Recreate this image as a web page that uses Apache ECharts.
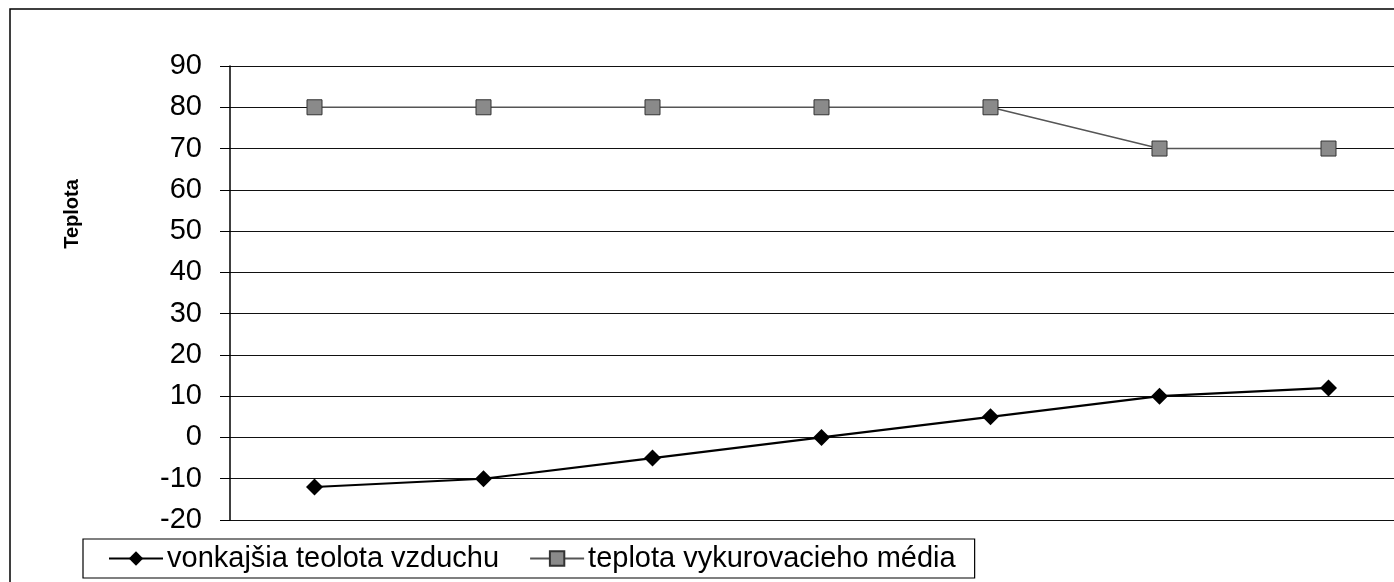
<!DOCTYPE html>
<html>
<head>
<meta charset="utf-8">
<script src="https://cdn.jsdelivr.net/npm/echarts@6/dist/echarts.min.js"></script>
<style>
  html, body { margin: 0; padding: 0; background: #fff; overflow: hidden; }
  /* the plot area of the original runs past the right edge of the picture */
  #chart { width: 1413px; height: 582px; }
</style>
</head>
<body>
<div id="chart"></div>
<script>
// categories have no visible labels in the original
const categories = ['1', '2', '3', '4', '5', '6', '7']
const outdoorTemp = [-12, -10, -5, 0, 5, 10, 12]
const mediumTemp = [80, 80, 80, 80, 80, 70, 70]
const seriesNames = ['vonkajšia teolota vzduchu', 'teplota vykurovacieho média']

const chart = echarts.init(document.getElementById('chart'))
const font = 'Liberation Sans, Arial, sans-serif'

chart.setOption({
  animation: false,
  backgroundColor: '#fff',
  textStyle: { fontFamily: font },
  graphic: [
    {
      type: 'rect',
      shape: { x: 10, y: 9, width: 1420, height: 600 },
      style: { fill: 'none', stroke: '#000', lineWidth: 1.5 },
      silent: true
    },
    {
      type: 'text',
      x: 72,
      y: 214,
      rotation: Math.PI / 2,
      style: {
        text: 'Teplota',
        font: 'bold 20px ' + font,
        fill: '#000',
        align: 'center',
        verticalAlign: 'middle'
      }
    }
  ],
  grid: {
    left: 230,
    top: 66,
    right: 0,
    height: 454,
    containLabel: false
  },
  legend: {
    left: 83,
    top: 539,
    itemGap: 30,
    itemWidth: 54,
    itemHeight: 18,
    padding: [5, 19, 5, 25],
    borderColor: '#000',
    borderWidth: 1.2,
    backgroundColor: '#fff',
    textStyle: { fontSize: 29, color: '#000', fontFamily: font, padding: [0, 0, 0, -1] },
    data: seriesNames
  },
  xAxis: {
    type: 'category',
    data: categories,
    boundaryGap: true,
    axisLine: { show: false },
    axisTick: { show: false },
    axisLabel: { show: false }
  },
  yAxis: {
    type: 'value',
    min: -20,
    max: 90,
    interval: 10,
    axisLine: { show: true, lineStyle: { color: '#000', width: 1.5 } },
    axisTick: { show: true, length: 10, lineStyle: { color: '#000' } },
    axisLabel: { margin: 28, fontSize: 29, color: '#000', fontFamily: font },
    splitLine: { show: true, lineStyle: { color: '#111', width: 1.2 } }
  },
  series: [
    {
      name: seriesNames[0],
      type: 'line',
      data: outdoorTemp,
      symbol: 'diamond',
      symbolSize: 17,
      itemStyle: { color: '#000' },
      lineStyle: { color: '#000', width: 2.2 }
    },
    {
      name: seriesNames[1],
      type: 'line',
      data: mediumTemp,
      symbol: 'rect',
      symbolSize: 15,
      itemStyle: { color: '#8a8a8a', borderColor: '#333', borderWidth: 1 },
      lineStyle: { color: '#555', width: 1.5 }
    }
  ]
})
</script>
</body>
</html>
